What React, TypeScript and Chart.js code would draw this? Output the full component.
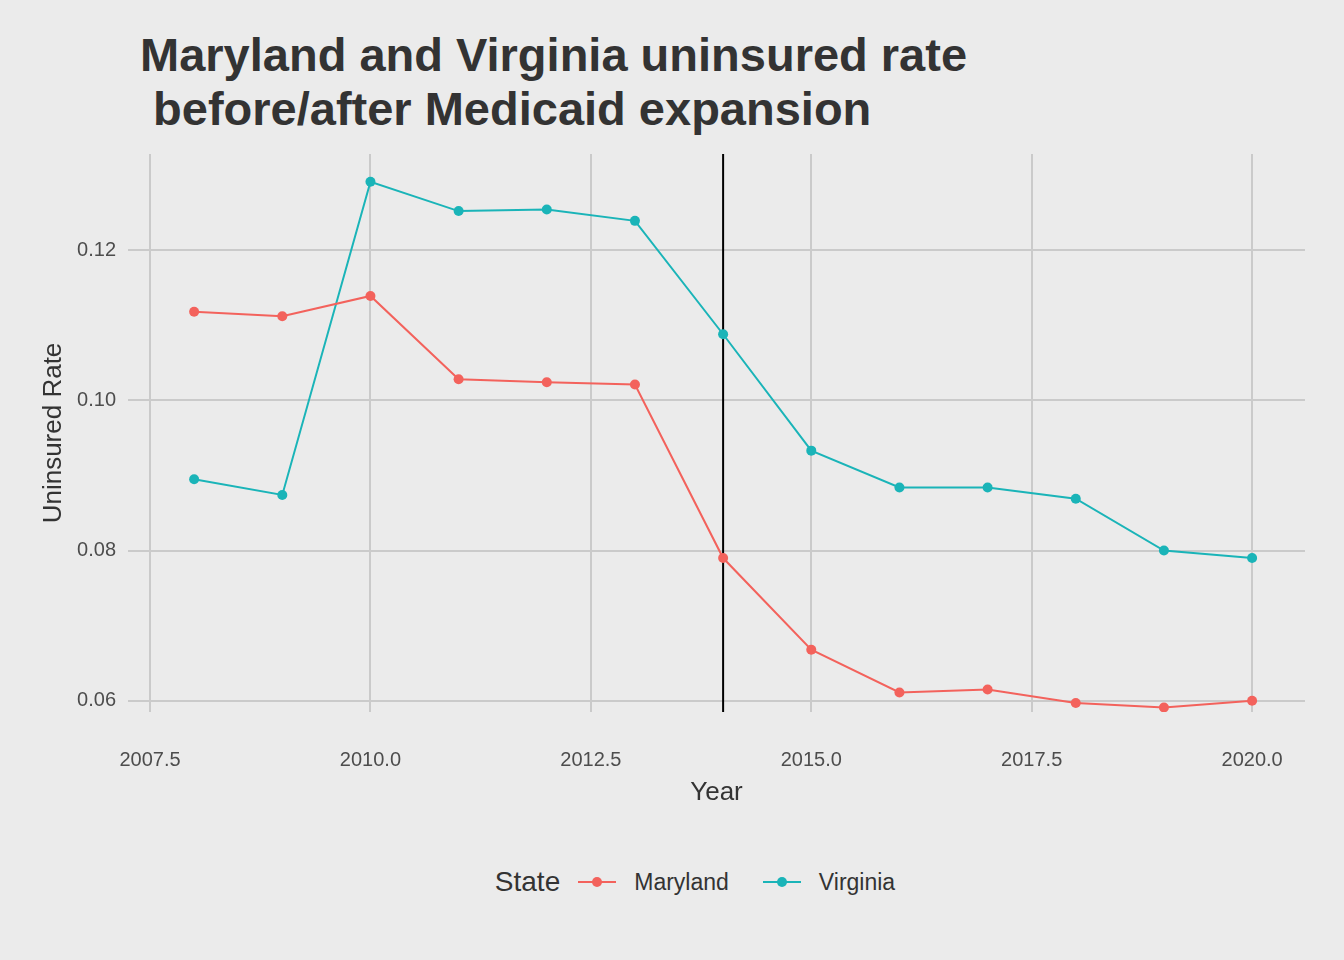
import { useEffect, useRef } from 'react'
import { Chart, registerables } from 'chart.js'

Chart.register(...registerables)

const years = [2008, 2009, 2010, 2011, 2012, 2013, 2014, 2015, 2016, 2017, 2018, 2019, 2020]
const maryland = [0.1118, 0.1112, 0.1139, 0.1028, 0.1024, 0.1021, 0.079, 0.0668, 0.0611, 0.0615, 0.0597, 0.0591, 0.06]
const virginia = [0.0895, 0.0874, 0.1291, 0.1252, 0.1254, 0.1239, 0.1088, 0.0933, 0.0884, 0.0884, 0.0869, 0.08, 0.079]
const xTicks = [2007.5, 2010, 2012.5, 2015, 2017.5, 2020]
const yTicks = [0.06, 0.08, 0.1, 0.12]
const expansionYear = 2014

const RED = '#f3625c'
const TEAL = '#1ab4b8'
const FONT = '"Liberation Sans", Arial, sans-serif'

export default function App() {
  const chartRef = useRef<HTMLCanvasElement>(null)
  const chartInstance = useRef<Chart | null>(null)

  useEffect(() => {
    if (!chartRef.current) return
    document.body.style.margin = '0'
    document.body.style.background = '#ebebeb'
    if (chartInstance.current) chartInstance.current.destroy()
    const ctx = chartRef.current.getContext('2d')
    if (!ctx) return

    const pts = (vals: number[]) => years.map((y, i) => ({ x: y, y: vals[i] }))

    chartInstance.current = new Chart(ctx, {
      type: 'line',
      data: {
        datasets: [
          { label: 'Maryland', data: pts(maryland), borderColor: RED, backgroundColor: RED, borderWidth: 2, pointRadius: 5, pointBorderWidth: 0 },
          { label: 'Virginia', data: pts(virginia), borderColor: TEAL, backgroundColor: TEAL, borderWidth: 2, pointRadius: 5, pointBorderWidth: 0 },
          { label: 'expansion', data: [{ x: expansionYear, y: 0 }, { x: expansionYear, y: 1 }], borderColor: '#000', borderWidth: 2, pointRadius: 0 },
        ],
      },
      options: {
        animation: false,
        responsive: false,
        layout: { padding: { top: 20, right: 39, left: 34, bottom: 0 } },
        plugins: { legend: { display: false }, tooltip: { enabled: false } },
        scales: {
          x: {
            type: 'linear',
            min: 2007.25,
            max: 2020.6,
            afterBuildTicks: (s: any) => { s.ticks = xTicks.map(v => ({ value: v })) },
            afterFit: (s: any) => { s.height = 100 },
            ticks: { callback: (v: any) => Number(v).toFixed(1), color: '#4d4d4d', font: { family: FONT, size: 20 }, maxRotation: 0, padding: 36 },
            grid: { color: '#cacaca', lineWidth: 2, drawTicks: false },
            border: { display: false },
            title: { display: true, text: 'Year', color: '#333', font: { family: FONT, size: 26 }, padding: { top: 0 } },
          },
          y: {
            type: 'linear',
            min: 0.0585,
            max: 0.1328,
            afterBuildTicks: (s: any) => { s.ticks = yTicks.map(v => ({ value: v })) },
            afterFit: (s: any) => { s.width = 94 },
            ticks: { callback: (v: any) => Number(v).toFixed(2), color: '#4d4d4d', font: { family: FONT, size: 20 }, padding: 12 },
            grid: { color: '#cacaca', lineWidth: 2, drawTicks: false },
            border: { display: false },
            title: { display: true, text: 'Uninsured Rate', color: '#333', font: { family: FONT, size: 26 }, padding: { bottom: 0 } },
          },
        },
      },
    })

    return () => {
      if (chartInstance.current) chartInstance.current.destroy()
    }
  }, [])

  const legendItem = (color: string, label: string) => (
    <span style={{ display: 'inline-flex', alignItems: 'center', marginRight: 34 }}>
      <span style={{ position: 'relative', width: 38, height: 20, display: 'inline-block', marginRight: 18 }}>
        <span style={{ position: 'absolute', left: 0, right: 0, top: 9, height: 2, background: color }} />
        <span style={{ position: 'absolute', left: 14, top: 5, width: 10, height: 10, borderRadius: 5, background: color }} />
      </span>
      <span style={{ fontSize: 23, color: '#333' }}>{label}</span>
    </span>
  )

  return (
    <div style={{ position: 'relative', width: 1344, height: 960, background: '#ebebeb', fontFamily: FONT }}>
      <div style={{ position: 'absolute', left: 140, top: 28, fontSize: 47, fontWeight: 'bold', color: '#333', lineHeight: '54px', whiteSpace: 'pre' }}>
        {'Maryland and Virginia uninsured rate\n before/after Medicaid expansion'}
      </div>
      <canvas ref={chartRef} width={1344} height={682} style={{ position: 'absolute', left: 0, top: 130 }} />
      <div style={{ position: 'absolute', left: 0, width: 1344, top: 866, display: 'flex', justifyContent: 'center', alignItems: 'center', paddingLeft: 40 }}>
        <span style={{ fontSize: 28, color: '#333', marginRight: 18 }}>State</span>
        {legendItem(RED, 'Maryland')}
        {legendItem(TEAL, 'Virginia')}
      </div>
    </div>
  )
}
